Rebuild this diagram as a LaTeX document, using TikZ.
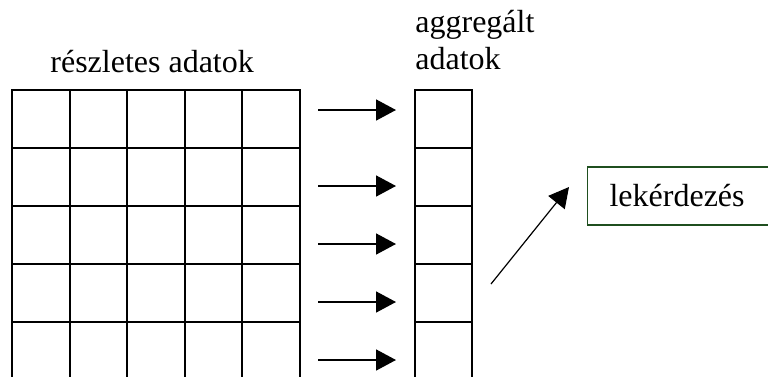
\documentclass[tikz,border=0pt]{standalone}
\usepackage{fontspec}
\setmainfont{Liberation Serif}
\usetikzlibrary{arrows.meta, positioning}
\definecolor{boxgreen}{HTML}{1F4F1F}

\begin{document}
\begin{tikzpicture}[x=0.5pt, y=-0.5pt,
    cell/.style={line width=1pt},
    flow/.style={-{Triangle[length=10pt, width=10.5pt]}, line width=0.8pt},
    label/.style={font=\fontsize{16}{18.5}\selectfont, inner sep=0pt},
]
    \useasboundingbox (0,0) rectangle (768,376);

    % detailed data
    \draw[cell] (12,90) rectangle (300,400);
    \foreach \c in {1,...,4}
        \draw[cell] ({12+57.6*\c}, 90) -- ({12+57.6*\c}, 400);
    \foreach \r in {1,...,4}
        \draw[cell] (12, {90+58*\r}) -- (300, {90+58*\r});

    % aggregated column
    \draw[cell] (415,90) rectangle (472,400);
    \foreach \r in {1,...,4}
        \draw[cell] (415, {90+58*\r}) -- (472, {90+58*\r});

    % aggregation arrows
    \foreach \y [count=\i] in {110,186,244,302,360} {
        \coordinate (from\i) at (318,\y);
        \coordinate (to\i) at (396,\y);
        \draw[flow] (from\i) -- (to\i);
    }

    \node[label, anchor=base west] (detailed) at (50,72) {részletes adatok};
    \node[label, anchor=base west, align=left] (aggregated) at (415,69) {aggregált\\adatok};

    % query
    \node[label, draw=boxgreen, line width=0.6pt, anchor=west, minimum height=29pt,
          text width=80pt, inner xsep=11pt, align=left] (query) at (587,196) {lekérdezés};
    \coordinate (ask) at (491,284);
    \coordinate (asktip) at (569,187);
    \draw[flow, line width=0.6pt] (ask) -- (asktip);
\end{tikzpicture}
\end{document}
